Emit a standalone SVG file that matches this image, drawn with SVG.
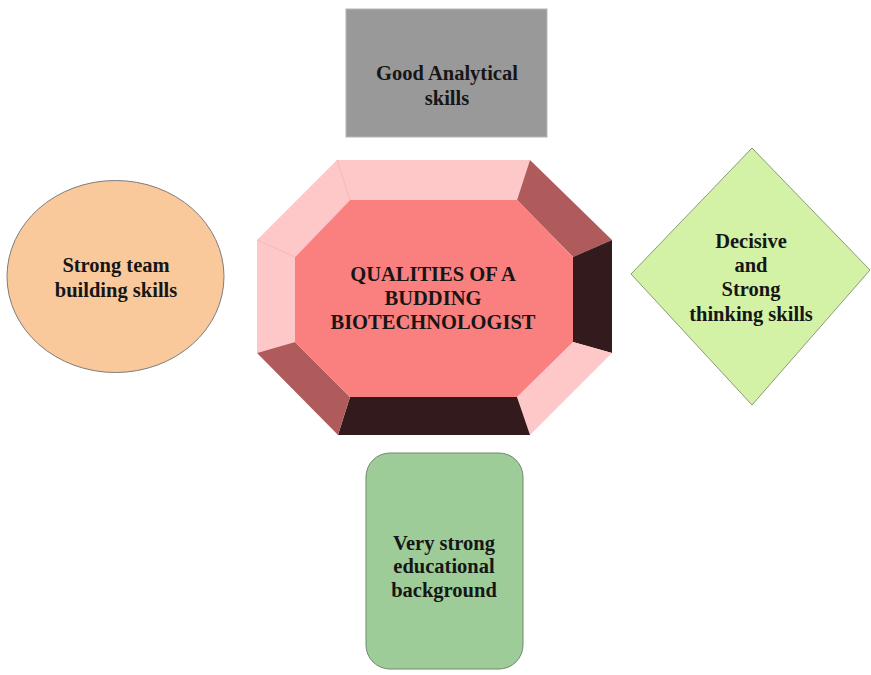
<svg xmlns="http://www.w3.org/2000/svg" width="871" height="675" viewBox="0 0 871 675">
  <style>
    .lbl { font-family: "Liberation Serif", "Times New Roman", serif; font-weight: bold; font-size: 20.5px; fill: #161616; text-anchor: middle; }
    .lite { fill: #FFC8C8; }
    .mid { fill: #B05B5B; }
    .dark { fill: #331A1C; }
  </style>
  <rect width="871" height="675" fill="#ffffff"/>

  <g id="connectors"/>

  <!-- top: analytical skills -->
  <g id="analytical">
    <rect x="346" y="9" width="201" height="128" fill="#999999" stroke="#b5b5b5" stroke-width="1"/>
    <text class="lbl" x="447" y="80">Good Analytical</text>
    <text class="lbl" x="447" y="105">skills</text>
  </g>

  <!-- centre: bevelled octagon -->
  <g id="qualities">
    <polygon class="lite" points="337,160 530,160 517,200 350,200"/>
    <polygon class="lite" points="257,240 337,160 350,200 295,257"/>
    <polygon class="lite" points="257,240 295,257 295,342 257,353"/>
    <polygon class="mid" points="530,160 612,240 573,257 517,200"/>
    <polygon class="dark" points="612,240 612,353 573,342 573,257"/>
    <polygon class="lite" points="612,353 530,435 517,397 573,342"/>
    <polygon class="dark" points="530,435 338,435 350,397 517,397"/>
    <polygon class="mid" points="338,435 257,353 295,342 350,397"/>
    <polygon fill="#FA7F7F" points="350,200 517,200 573,257 573,342 517,397 350,397 295,342 295,257"/>
    <polyline points="337,160 350,200 295,257 257,240" fill="none" stroke="#f2b8b8" stroke-width="1"/>
    <text class="lbl" x="433" y="281">QUALITIES OF A</text>
    <text class="lbl" x="433" y="305">BUDDING</text>
    <text class="lbl" x="433" y="329">BIOTECHNOLOGIST</text>
  </g>

  <!-- left: team building -->
  <g id="team">
    <ellipse cx="115.5" cy="276.5" rx="108.5" ry="96" fill="#F9C99C" stroke="#7d7d7d" stroke-width="1"/>
    <text class="lbl" x="116" y="272">Strong team</text>
    <text class="lbl" x="116" y="297">building skills</text>
  </g>

  <!-- right: decisive thinking -->
  <g id="decisive">
    <polygon points="752,148 870,270 752,405 631,274" fill="#D4F2A6" stroke="#8a9a7a" stroke-width="1"/>
    <text class="lbl" x="751" y="248">Decisive</text>
    <text class="lbl" x="751" y="272">and</text>
    <text class="lbl" x="751" y="296">Strong</text>
    <text class="lbl" x="751" y="321">thinking skills</text>
  </g>

  <!-- bottom: educational background -->
  <g id="education">
    <rect x="366" y="453" width="157" height="216" rx="24" ry="24" fill="#9DCC98" stroke="#6f8a6d" stroke-width="1"/>
    <text class="lbl" x="444" y="550">Very strong</text>
    <text class="lbl" x="444" y="573">educational</text>
    <text class="lbl" x="444" y="597">background</text>
  </g>
</svg>
